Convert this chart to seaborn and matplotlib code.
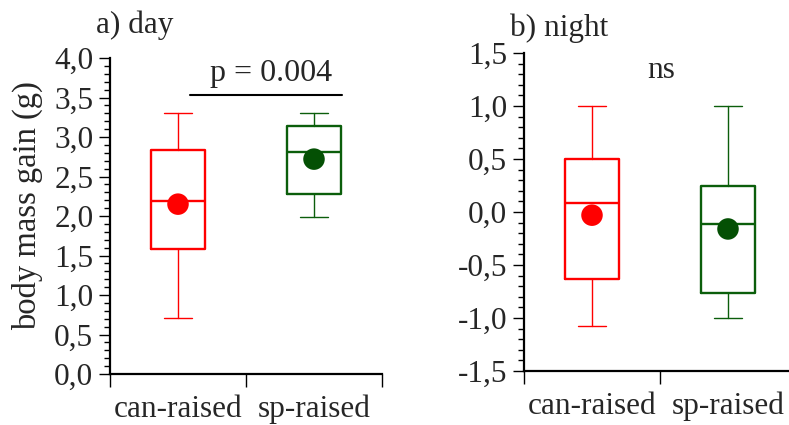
import matplotlib
matplotlib.use("Agg")
import matplotlib.pyplot as plt
import seaborn as sns
import pandas as pd
from matplotlib.ticker import FuncFormatter, MultipleLocator, FixedLocator

# ---------------- data ----------------
groups = ["can-raised", "sp-raised"]
box_colors = ["#ff0000", "#0b5e0b"]
mean_colors = ["#ff0000", "#045004"]

day_whislo = [0.71, 1.99]
day_q1 = [1.58, 2.28]
day_med = [2.19, 2.81]
day_q3 = [2.84, 3.14]
day_whishi = [3.31, 3.30]
day_mean = [2.15, 2.72]

night_whislo = [-1.08, -1.00]
night_q1 = [-0.63, -0.76]
night_med = [0.085, -0.11]
night_q3 = [0.50, 0.25]
night_whishi = [1.00, 1.00]
night_mean = [-0.03, -0.16]

day_title = "a) day"
night_title = "b) night"
day_sig = "p = 0.004"
night_sig = "ns"
ylabel = "body mass gain (g)"

# ---------------- style ----------------
sns.set_style("ticks")
plt.rcParams["font.family"] = ["Liberation Serif", "DejaVu Serif"]
FS = 22.5

fig = plt.figure(figsize=(7.89, 4.25), dpi=100)
W, H = 789.0, 425.0
ax1 = fig.add_axes([110 / W, 1 - 374 / H, 272 / W, 316 / H])
ax2 = fig.add_axes([524 / W, 1 - 371 / H, 272 / W, 318 / H])

positions = [0, 1]


def draw_panel(ax, lo, q1, med, q3, hi, means, ylim):
    stats = []
    for i, g in enumerate(groups):
        stats.append(dict(label=g, whislo=lo[i], q1=q1[i], med=med[i],
                          q3=q3[i], whishi=hi[i], fliers=[]))
    art = ax.bxp(stats, positions=positions, widths=0.4, capwidths=0.2,
                 showfliers=False, manage_ticks=False,
                 boxprops=dict(linewidth=1.7),
                 medianprops=dict(linewidth=1.7),
                 whiskerprops=dict(linewidth=1.0),
                 capprops=dict(linewidth=1.0))
    for i, c in enumerate(box_colors):
        art["boxes"][i].set_color(c)
        art["medians"][i].set_color(c)
        for k in (2 * i, 2 * i + 1):
            art["whiskers"][k].set_color(c)
            art["caps"][k].set_color(c)
    df = pd.DataFrame({"pos": positions, "mean": means, "group": groups})
    sns.scatterplot(data=df, x="pos", y="mean", hue="group",
                    palette=mean_colors, s=240, edgecolor="none",
                    legend=False, ax=ax, zorder=4)
    ax.set_xlim(-0.5, 1.5)
    ax.set_ylim(*ylim)
    ax.set_xlabel("")
    ax.set_ylabel("")
    # x ticks: marks at boundaries, labels at box centres
    ax.xaxis.set_major_locator(FixedLocator([-0.5, 0.5, 1.5]))
    ax.xaxis.set_major_formatter(FuncFormatter(lambda v, p: ""))
    ax.set_xticks(positions, groups, minor=True)
    ax.tick_params(axis="x", which="major", direction="out", length=9.5,
                   width=1.0, color="black")
    ax.tick_params(axis="x", which="minor", length=0, pad=15,
                   labelsize=FS)
    # y ticks
    ax.yaxis.set_major_locator(MultipleLocator(0.5))
    ax.yaxis.set_minor_locator(MultipleLocator(0.1))
    ax.yaxis.set_major_formatter(
        FuncFormatter(lambda v, p: f"{v:.1f}".replace(".", ",").replace("-0,0", "0,0")))
    ax.tick_params(axis="y", which="major", direction="out", length=8,
                   width=1.0, labelsize=FS, pad=4, color="black")
    ax.tick_params(axis="y", which="minor", direction="out", length=4,
                   width=1.0, color="black")
    for s in ("top", "right"):
        ax.spines[s].set_visible(False)
    for s in ("left", "bottom"):
        ax.spines[s].set_linewidth(1.6)
        ax.spines[s].set_color("black")
    for lab in ax.get_xticklabels(minor=True) + ax.get_yticklabels():
        lab.set_fontsize(FS)


draw_panel(ax1, day_whislo, day_q1, day_med, day_q3, day_whishi, day_mean, (0, 4.0))
draw_panel(ax2, night_whislo, night_q1, night_med, night_q3, night_whishi, night_mean, (-1.5, 1.5))

# significance annotations
ax1.plot([0.088, 1.206], [3.535, 3.535], color="black", lw=1.5, clip_on=False)
ax1.text(0.684, 3.71, day_sig, ha="center", va="baseline", fontsize=FS + 0.5)
ax2.text(0.507, 1.264, night_sig, ha="center", va="baseline", fontsize=FS)

# titles and y label
fig.text(96 / W, 1 - 33 / H, day_title, ha="left", va="baseline", fontsize=FS)
fig.text(510 / W, 1 - 36 / H, night_title, ha="left", va="baseline", fontsize=FS)
fig.text(27 / W, 1 - 206 / H, ylabel, rotation=90, ha="center", va="center",
         fontsize=23.5)

fig.savefig("out.png", dpi=100)
